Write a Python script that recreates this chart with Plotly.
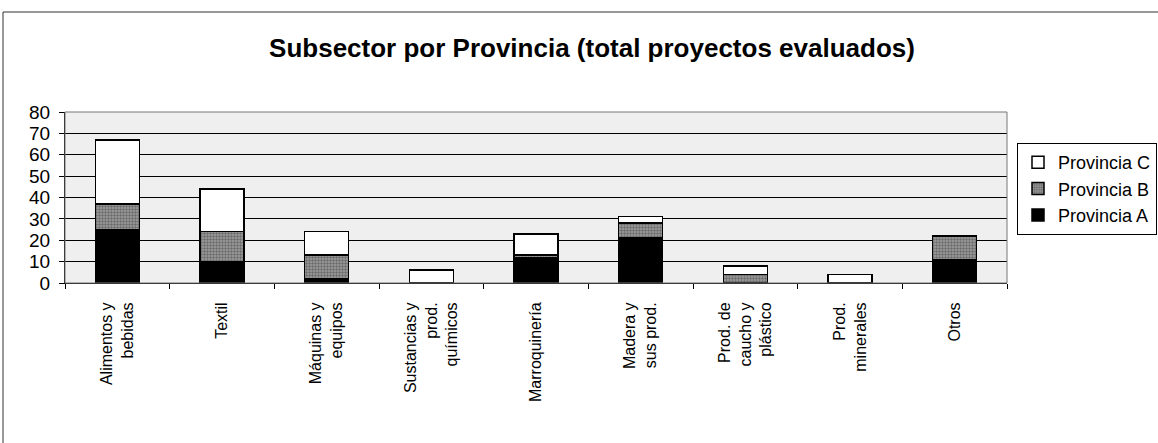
import plotly.graph_objects as go

categories = [
    "Alimentos y<br>bebidas", "Textil", "Máquinas y<br>equipos",
    "Sustancias y<br>prod.<br>químicos", "Marroquinería", "Madera y<br>sus prod.",
    "Prod. de<br>caucho y<br>plástico", "Prod.<br>minerales", "Otros",
]
provincia_a = [25, 10, 2, 0, 12, 21, 0, 0, 11]
provincia_b = [12, 14, 11, 0, 1, 7, 4, 0, 11]
provincia_c = [30, 20, 11, 6, 10, 3, 4, 4, 0]
y_ticks = [0, 10, 20, 30, 40, 50, 60, 70, 80]

W, H = 1158, 443
L, R, T, B = 65, 151, 112, 160
PW, PH = W - L - R, H - T - B

FONT = "Liberation Sans, Arial, sans-serif"
line = dict(color="black", width=1.5)

fig = go.Figure()
fig.add_trace(go.Bar(name="Provincia A", x=categories, y=provincia_a,
                     marker=dict(color="black", line=line)))
fig.add_trace(go.Bar(name="Provincia B", x=categories, y=provincia_b,
                     marker=dict(color="#8a8a8a", line=line,
                                 pattern=dict(shape=".", size=3, solidity=0.5,
                                              fgcolor="#333333", bgcolor="#a0a0a0",
                                              fillmode="overlay"))))
fig.add_trace(go.Bar(name="Provincia C", x=categories, y=provincia_c,
                     marker=dict(color="white", line=line)))

def px_to_paper_x(px):
    return (px - L) / PW

def px_to_paper_y(py):
    return (H - B - py) / PH

fig.update_layout(
    width=W, height=H,
    margin=dict(l=L, r=R, t=T, b=B, autoexpand=False),
    barmode="stack", bargap=0.58,
    paper_bgcolor="white", plot_bgcolor="#efefef",
    font=dict(family=FONT, color="black"),
    title=dict(text="<b>Subsector por Provincia (total proyectos evaluados)</b>",
               font=dict(size=26, family=FONT, color="black"),
               x=592 / W, xanchor="center", xref="container",
               y=1 - 48 / H, yanchor="middle", yref="container"),
    showlegend=True,
    legend=dict(traceorder="reversed", x=px_to_paper_x(1017), xanchor="left",
                y=px_to_paper_y(143), yanchor="top",
                bgcolor="white", bordercolor="black", borderwidth=1,
                font=dict(size=18, family=FONT), itemwidth=30,
                tracegroupgap=0),
    xaxis=dict(showline=True, linecolor="black", linewidth=1,
               ticks="outside", tickson="boundaries", ticklen=5, tickcolor="black",
               tickangle=-90, tickfont=dict(size=16, family=FONT),
               ticklabelstandoff=12,
               showgrid=False, mirror=False),
    yaxis=dict(range=[0, 80], tickvals=y_ticks, ticks="outside", ticklen=5,
               tickcolor="black", showline=True, linecolor="black", linewidth=1,
               showgrid=True, gridcolor="black", gridwidth=1,
               ticklabelstandoff=5,
               tickfont=dict(size=19, family=FONT), zeroline=False),
    shapes=[
        dict(type="rect", xref="paper", yref="paper",
             x0=0, x1=1, y0=0, y1=1, line=dict(color="#777777", width=1),
             fillcolor="rgba(0,0,0,0)", layer="above"),
        dict(type="rect", xref="paper", yref="paper",
             x0=px_to_paper_x(3), x1=px_to_paper_x(1170),
             y0=px_to_paper_y(460), y1=px_to_paper_y(12),
             line=dict(color="#333333", width=1), fillcolor="rgba(0,0,0,0)"),
    ],
)

fig.write_html("out.html", config={"displayModeBar": False},
               post_script="document.body.style.margin='0';document.body.style.overflow='hidden';")
